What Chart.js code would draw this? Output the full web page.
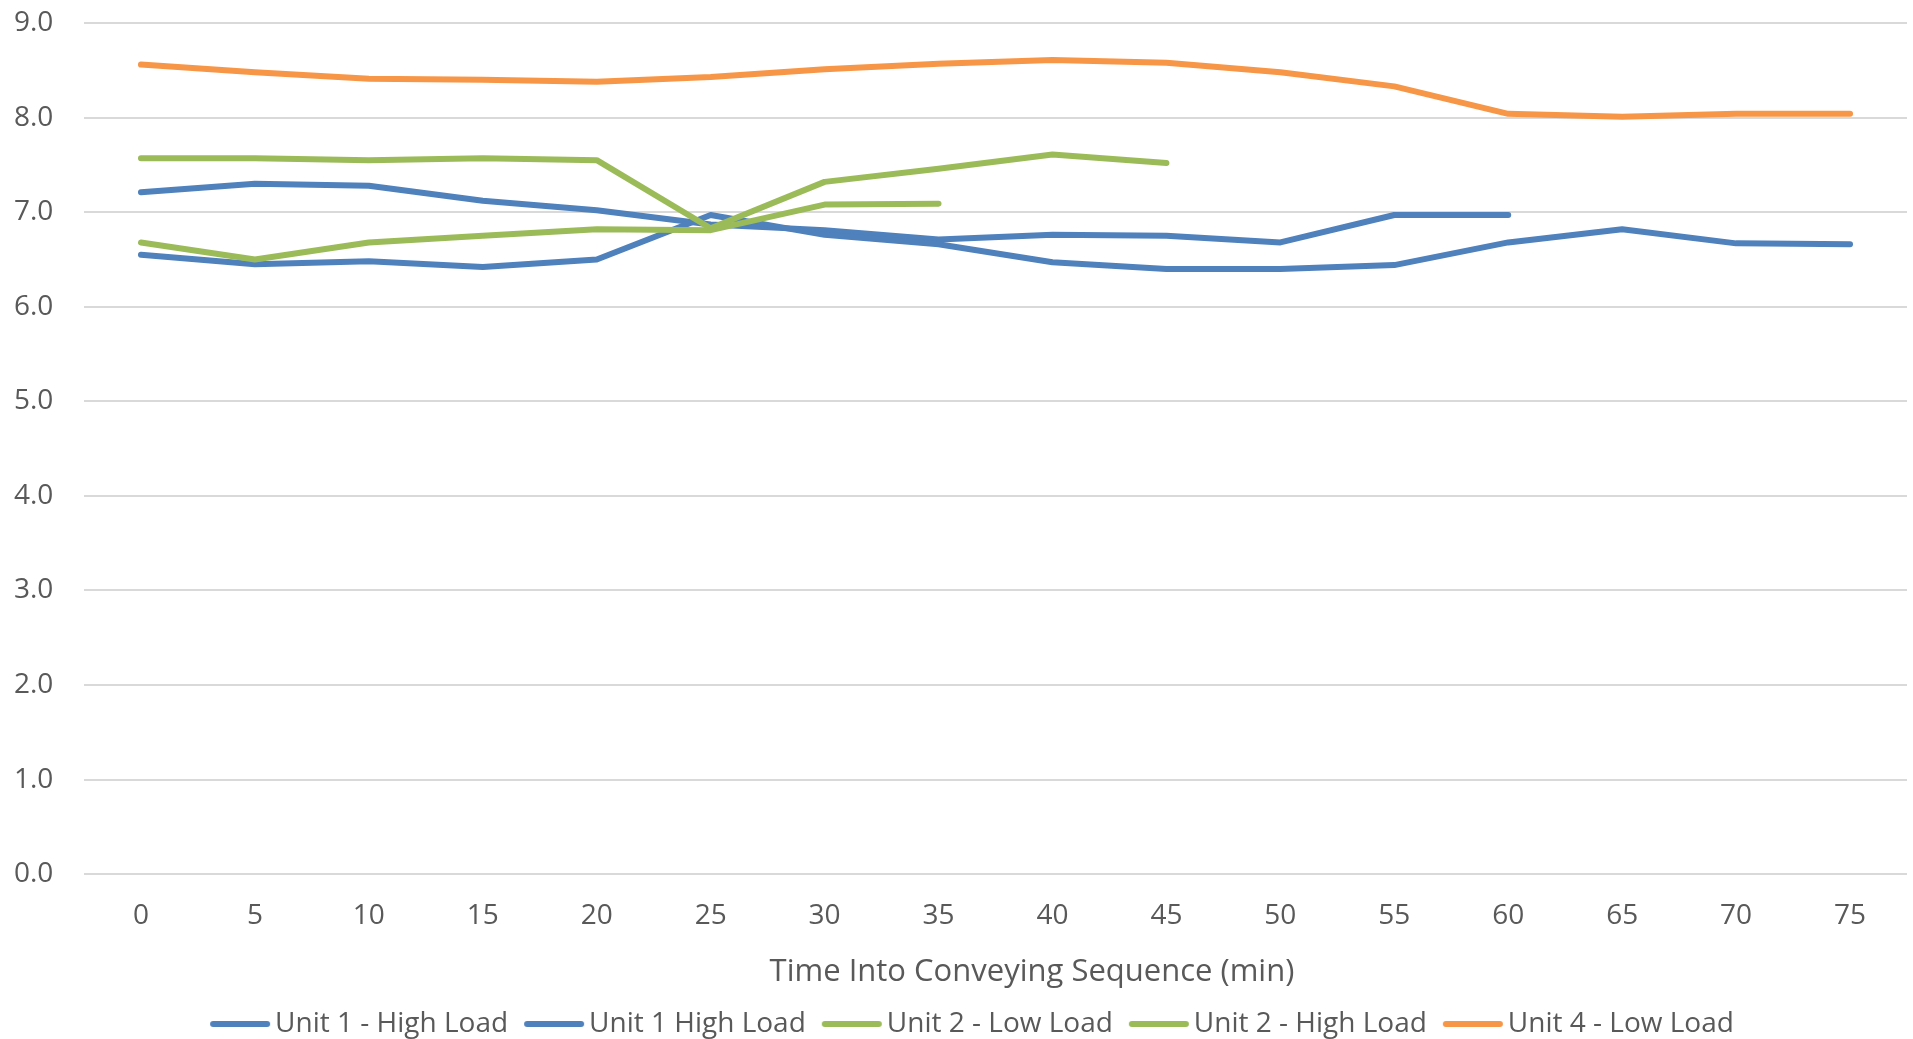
<!DOCTYPE html>
<html>
<head>
<meta charset="utf-8">
<script src="https://cdn.jsdelivr.net/npm/chart.js@4.4.1/dist/chart.umd.min.js"></script>
<style>
  html, body { margin: 0; padding: 0; background: #fff; }
  #wrap { width: 1913px; height: 1039px; }
</style>
</head>
<body>
<div id="wrap"><canvas id="chart"></canvas></div>
<script>
// time into sequence, minutes
const minutes = ['0', '5', '10', '15', '20', '25', '30', '35', '40', '45', '50', '55', '60', '65', '70', '75'];

const unit1HighA = [7.21, 7.30, 7.28, 7.12, 7.02, 6.87, 6.81, 6.71, 6.76, 6.75, 6.68, 6.97, 6.97];
const unit1HighB = [6.55, 6.45, 6.48, 6.42, 6.50, 6.97, 6.76, 6.66, 6.47, 6.40, 6.40, 6.44, 6.68, 6.82, 6.67, 6.66];
const unit2Low = [6.68, 6.50, 6.68, 6.75, 6.82, 6.81, 7.08, 7.09];
const unit2High = [7.57, 7.57, 7.55, 7.57, 7.55, 6.83, 7.32, 7.46, 7.61, 7.52];
const unit4Low = [8.56, 8.48, 8.41, 8.40, 8.38, 8.43, 8.51, 8.57, 8.61, 8.58, 8.48, 8.33, 8.04, 8.01, 8.04, 8.04];

const seriesNames = ['Unit 1 - High Load', 'Unit 1 High Load', 'Unit 2 - Low Load', 'Unit 2 - High Load', 'Unit 4 - Low Load'];
const seriesData = [unit1HighA, unit1HighB, unit2Low, unit2High, unit4Low];
const seriesColors = ['#4f81bd', '#4f81bd', '#9bbb59', '#9bbb59', '#f79646'];

const yTicks = [0, 1, 2, 3, 4, 5, 6, 7, 8, 9];
const xTitle = 'Time Into Conveying Sequence (min)';

const FONT = '"Open Sans"';
const TEXT = '#595959';

// legend sample: a short round-capped line that sits close to its text (Excel style)
function lineSample(color) {
  const c = document.createElement('canvas');
  c.width = 72;
  c.height = 12;
  const g = c.getContext('2d');
  g.strokeStyle = color;
  g.lineWidth = 6;
  g.lineCap = 'round';
  g.beginPath();
  g.moveTo(11, 6);
  g.lineTo(65, 6);
  g.stroke();
  return c;
}

// axis title and legend sit a bit right of where Chart.js centres them
const excelTweaks = {
  id: 'excelTweaks',
  afterLayout(chart) {
    chart.legend.left += 14;
    chart.legend.right += 14;
  },
  afterDraw(chart) {
    const { ctx, chartArea } = chart;
    const xs = chart.scales.x;
    ctx.save();
    ctx.font = '31px ' + FONT;
    ctx.fillStyle = TEXT;
    ctx.textAlign = 'center';
    ctx.textBaseline = 'middle';
    ctx.fillText(xTitle, chartArea.left + (chartArea.right - chartArea.left) * 0.52, xs.bottom - 17);
    ctx.restore();
  }
};

const datasets = seriesData.map((d, i) => ({
  label: seriesNames[i],
  data: d,
  borderColor: seriesColors[i],
  backgroundColor: seriesColors[i],
  borderWidth: 6,
  borderCapStyle: 'round',
  borderJoinStyle: 'round',
  pointRadius: 0,
  pointHoverRadius: 0,
  pointStyle: lineSample(seriesColors[i]),
  tension: 0,
  fill: false,
  order: seriesData.length - i   // later series drawn on top, like Excel
}));

new Chart(document.getElementById('chart'), {
  type: 'line',
  data: { labels: minutes, datasets: datasets },
  plugins: [excelTweaks],
  options: {
    responsive: true,
    maintainAspectRatio: false,
    animation: false,
    layout: { padding: { top: 23, right: 6, left: 14, bottom: -9 } },
    plugins: {
      tooltip: { enabled: false },
      legend: {
        position: 'bottom',
        labels: {
          font: { family: FONT, size: 28 },
          color: TEXT,
          usePointStyle: true,
          pointStyleWidth: 46,
          boxHeight: 20,
          padding: 21,
          sort: (a, b) => a.datasetIndex - b.datasetIndex
        }
      }
    },
    scales: {
      x: {
        offset: true,
        grid: { display: false, drawTicks: false },
        border: { display: false },
        ticks: { font: { family: FONT, size: 28 }, color: TEXT, padding: 25 },
        title: {
          display: true,
          text: xTitle,
          color: 'rgba(0,0,0,0)',
          font: { family: FONT, size: 31 },
          padding: { top: -11, bottom: 5 }
        }
      },
      y: {
        min: 0,
        max: 9,
        afterBuildTicks: (scale) => { scale.ticks = yTicks.map(v => ({ value: v })); },
        afterFit: (scale) => { scale.width = 70; },
        grid: { color: '#d9d9d9', lineWidth: 2, drawTicks: false },
        border: { display: false },
        ticks: {
          font: { family: FONT, size: 28 },
          color: TEXT,
          padding: 4,
          crossAlign: 'far',
          callback: (v) => Number(v).toFixed(1)
        }
      }
    }
  }
});
</script>
</body>
</html>
